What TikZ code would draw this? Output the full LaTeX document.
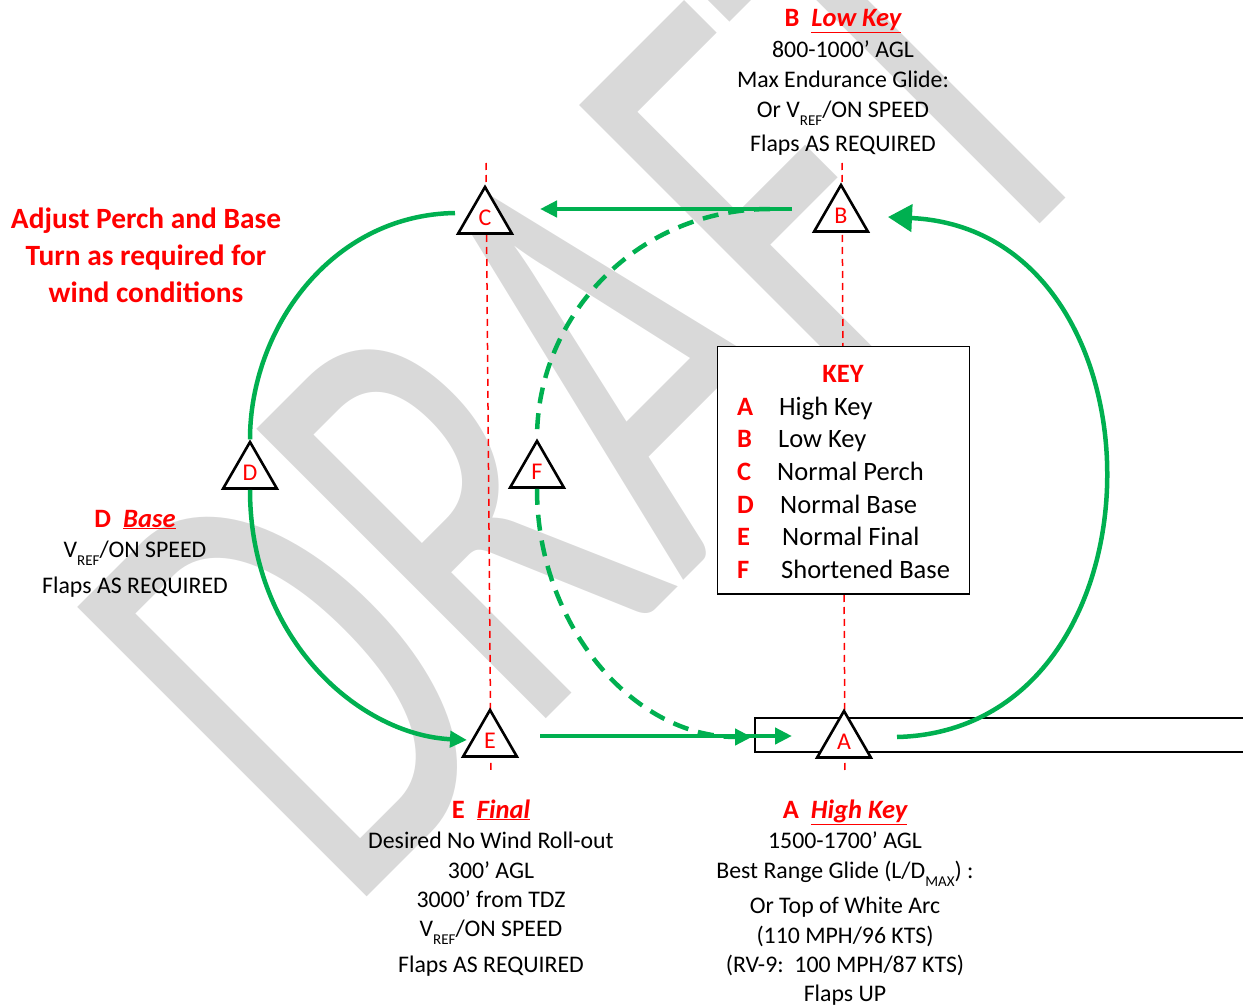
\documentclass[tikz,border=0pt]{standalone}
\usepackage{fontspec}
\setmainfont{Carlito}
\usetikzlibrary{arrows.meta,shapes.geometric,calc}
\definecolor{rd}{RGB}{255,0,0}
\definecolor{gn}{RGB}{0,176,80}
\definecolor{wm}{RGB}{217,217,217}
\newcommand{\sz}[1]{\fontsize{#1}{#1}\selectfont}
\newcommand{\subtxt}[1]{\raisebox{-8pt}{\fontsize{15}{15}\selectfont #1}}
\tikzset{
  tri/.style={regular polygon, regular polygon sides=3, draw=black, line width=2.6pt,
    fill=white, minimum size=62pt, inner sep=0pt, text=rd, font=\sz{24}},
  body/.style={anchor=base, inner sep=0pt, font=\sz{23.8}},
  head/.style={anchor=base, inner sep=0pt, font=\sz{26.5}\bfseries, text=rd},
  keyl/.style={anchor=base west, inner sep=0pt, font=\sz{26.5}\bfseries, text=rd},
  keyt/.style={anchor=base west, inner sep=0pt, font=\sz{26.5}},
  note/.style={anchor=base, inner sep=0pt, font=\sz{29.4}\bfseries, text=rd},
  leg/.style={draw=gn, line width=4.5pt},
  legdash/.style={leg, dash pattern=on 16pt off 10pt},
  tip/.style={-{Triangle[length=17pt,width=16pt]}},
  bigtip/.style={-{Triangle[length=24pt,width=27pt]}},
  guide/.style={draw=rd, line width=1.5pt, dash pattern=on 7pt off 5pt},
}
\begin{document}
\begin{tikzpicture}[x=1pt,y=-1pt]
\useasboundingbox (0,0) rectangle (1243,1006);

% watermark
\node[rotate=45, yscale=1.56, anchor=base west, inner sep=0pt, text=wm, font=\sz{409}]
  (wmark) at (347,917) {DRAFT};

% pattern points
\coordinate (Cp) at (485,218);
\coordinate (Bp) at (841,216);
\coordinate (Dp) at (250,473);
\coordinate (Fp) at (537,472);
\coordinate (Ep) at (490,741);
\coordinate (Ap) at (844,742);

% vertical reference lines
\draw[guide] ($(Cp)+(1,-55)$) -- ($(Ep)+(1,32)$);
\draw[guide] ($(Bp)+(1,-53)$) -- ($(Ap)+(1,31)$);

% runway
\draw[line width=2pt] (755,718) rectangle (1250,752);

% key box
\node[draw, fill=white, line width=1.4pt, minimum width=252pt, minimum height=247.5pt,
  inner sep=0pt] (keybox) at (843.5,470.25) {};
\node[head] (keyH) at (843,382) {KEY};
\node[keyl] (kA) at (737,415) {A};   \node[keyt] (kAt) at (779,415) {High Key};
\node[keyl] (kB) at (737,447.5) {B}; \node[keyt] (kBt) at (778,447.5) {Low Key};
\node[keyl] (kC) at (737,480.5) {C}; \node[keyt] (kCt) at (777,480.5) {Normal Perch};
\node[keyl] (kD) at (737,513) {D};   \node[keyt] (kDt) at (780,513) {Normal Base};
\node[keyl] (kE) at (737,545.5) {E}; \node[keyt] (kEt) at (782,545.5) {Normal Final};
\node[keyl] (kF) at (737,578.5) {F}; \node[keyt] (kFt) at (781,578.5) {Shortened Base};

% triangles
\node[tri] (C) at (Cp) {C};
\node[tri] (B) at (Bp) {B};
\node[tri] (D) at (Dp) {D};
\node[tri] (F) at (Fp) {F};
\node[tri] (E) at (Ep) {E};
\node[tri] (A) at (Ap) {A};

% flight path
\draw[leg, tip] ($(B)+(-49,-7)$) -- ($(C)+(55,-9)$);
\draw[leg, bigtip] ($(A)+(53,-5)$) .. controls (1175,730) and (1175,230) .. ($(B)+(47,1)$);
\draw[leg] ($(C)+(-30,-5)$) .. controls (330,215) and (250,330) .. (D.corner 1);
\draw[leg, tip] (D.side 2) .. controls (250,640) and (360,735) .. ($(E)+(-23,-1)$);
\draw[leg, tip] ($(E)+(50,-5)$) -- ($(A)+(-52,-6)$);
\draw[legdash] ($(B)+(-71,-7)$) .. controls (639,209) and (537,314) .. (F.corner 1);
\draw[legdash, tip] (F.side 2) .. controls (537,625) and (633,737) .. ($(A)+(-92,-5)$);

% B label
\node[head] (bH) at (843,27) {B\hspace{12pt}\textit{\underline{Low Key}}};
\node[body] (b1) at (843,58) {800-1000’ AGL};
\node[body] (b2) at (843,88) {Max Endurance Glide:};
\node[body] (b3) at (843,118) {Or V\subtxt{REF}/ON SPEED};
\node[body] (b4) at (843,152) {Flaps AS REQUIRED};

% note
\node[note] (n1) at (146,229) {Adjust Perch and Base};
\node[note] (n2) at (146,265) {Turn as required for};
\node[note] (n3) at (146,302) {wind conditions};

% D label
\node[head] (dH) at (135,527) {D\hspace{12pt}\textit{\underline{Base}}};
\node[body] (d1) at (135,557) {V\subtxt{REF}/ON SPEED};
\node[body] (d2) at (135,593) {Flaps AS REQUIRED};

% E label
\node[head] (eH) at (491,818) {E\hspace{12pt}\textit{\underline{Final}}};
\node[body] (e1) at (491,848) {Desired No Wind Roll-out};
\node[body] (e2) at (491,878) {300’ AGL};
\node[body] (e3) at (491,907) {3000’ from TDZ};
\node[body] (e4) at (491,936) {V\subtxt{REF}/ON SPEED};
\node[body] (e5) at (491,972) {Flaps AS REQUIRED};

% A label
\node[head] (aH) at (845,818) {A\hspace{12pt}\textit{\underline{High Key}}};
\node[body] (a1) at (845,848) {1500-1700’ AGL};
\node[body] (a2) at (845,878) {Best Range Glide (L/D\subtxt{MAX}) :};
\node[body] (a3) at (845,913) {Or Top of White Arc};
\node[body] (a4) at (845,943) {(110 MPH/96 KTS)};
\node[body] (a5) at (845,972) {(RV-9:\ \ 100 MPH/87 KTS)};
\node[body] (a6) at (845,1001) {Flaps UP};
\end{tikzpicture}
\end{document}
